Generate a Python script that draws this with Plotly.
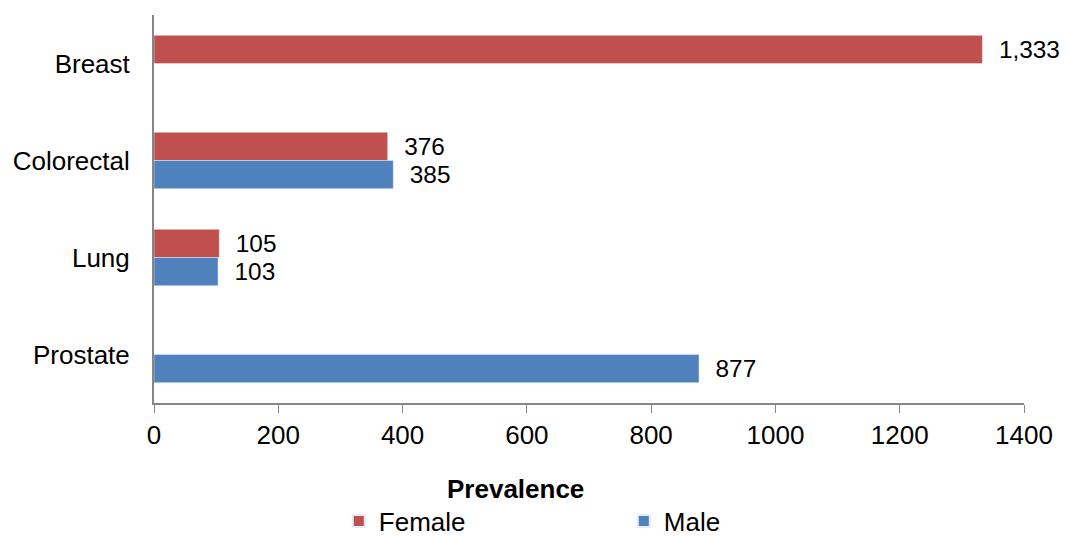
import plotly.graph_objects as go

categories = ["Breast", "Colorectal", "Lung", "Prostate"]
female = [1333, 376, 105, None]
male = [None, 385, 103, 877]
x_ticks = [0, 200, 400, 600, 800, 1000, 1200, 1400]

font_family = "Liberation Sans, Arial, sans-serif"
FS = 26


def labels(vals):
    return ["  " + f"{v:,}" if v is not None else "" for v in vals]


fig = go.Figure()
fig.add_trace(go.Bar(
    y=categories, x=female, orientation="h", name="Female",
    marker=dict(color="#C0504D"),
    text=labels(female),
    textposition="outside", textfont=dict(size=FS, color="black", family=font_family),
    cliponaxis=False,
))
fig.add_trace(go.Bar(
    y=categories, x=male, orientation="h", name="Male",
    marker=dict(color="#4F81BD"),
    text=labels(male),
    textposition="outside", textfont=dict(size=FS, color="black", family=font_family),
    cliponaxis=False,
))

fig.add_annotation(
    text="<b>Prevalence</b>", xref="paper", yref="paper",
    x=0.415, y=-0.2216, xanchor="center", yanchor="middle",
    showarrow=False, font=dict(size=FS, color="black", family=font_family),
)

fig.update_layout(
    width=1070, height=536,
    margin=dict(l=154, r=46, t=15, b=133, autoexpand=False),
    barmode="group", bargap=0.42, bargroupgap=0,
    plot_bgcolor="white", paper_bgcolor="white",
    font=dict(family=font_family, size=FS, color="black"),
    showlegend=True,
    legend=dict(orientation="h", x=0.54, xanchor="center",
                yref="container", y=0.028, yanchor="middle",
                font=dict(size=FS), entrywidth=240, traceorder="normal",
                itemsizing="constant"),
    xaxis=dict(range=[0, 1400], tickvals=x_ticks, ticks="outside", ticklen=8,
               tickcolor="#868686", showline=True, linecolor="#868686", linewidth=1.5,
               showgrid=False, zeroline=False, tickfont=dict(size=FS), automargin=False),
    yaxis=dict(autorange="reversed", showline=True, linecolor="#868686", linewidth=2,
               showgrid=False, ticks="", tickfont=dict(size=FS), ticklabelstandoff=17,
               automargin=False),
)

fig.write_html("out.html", config={"displayModeBar": False},
               post_script="document.body.style.margin='0';")
